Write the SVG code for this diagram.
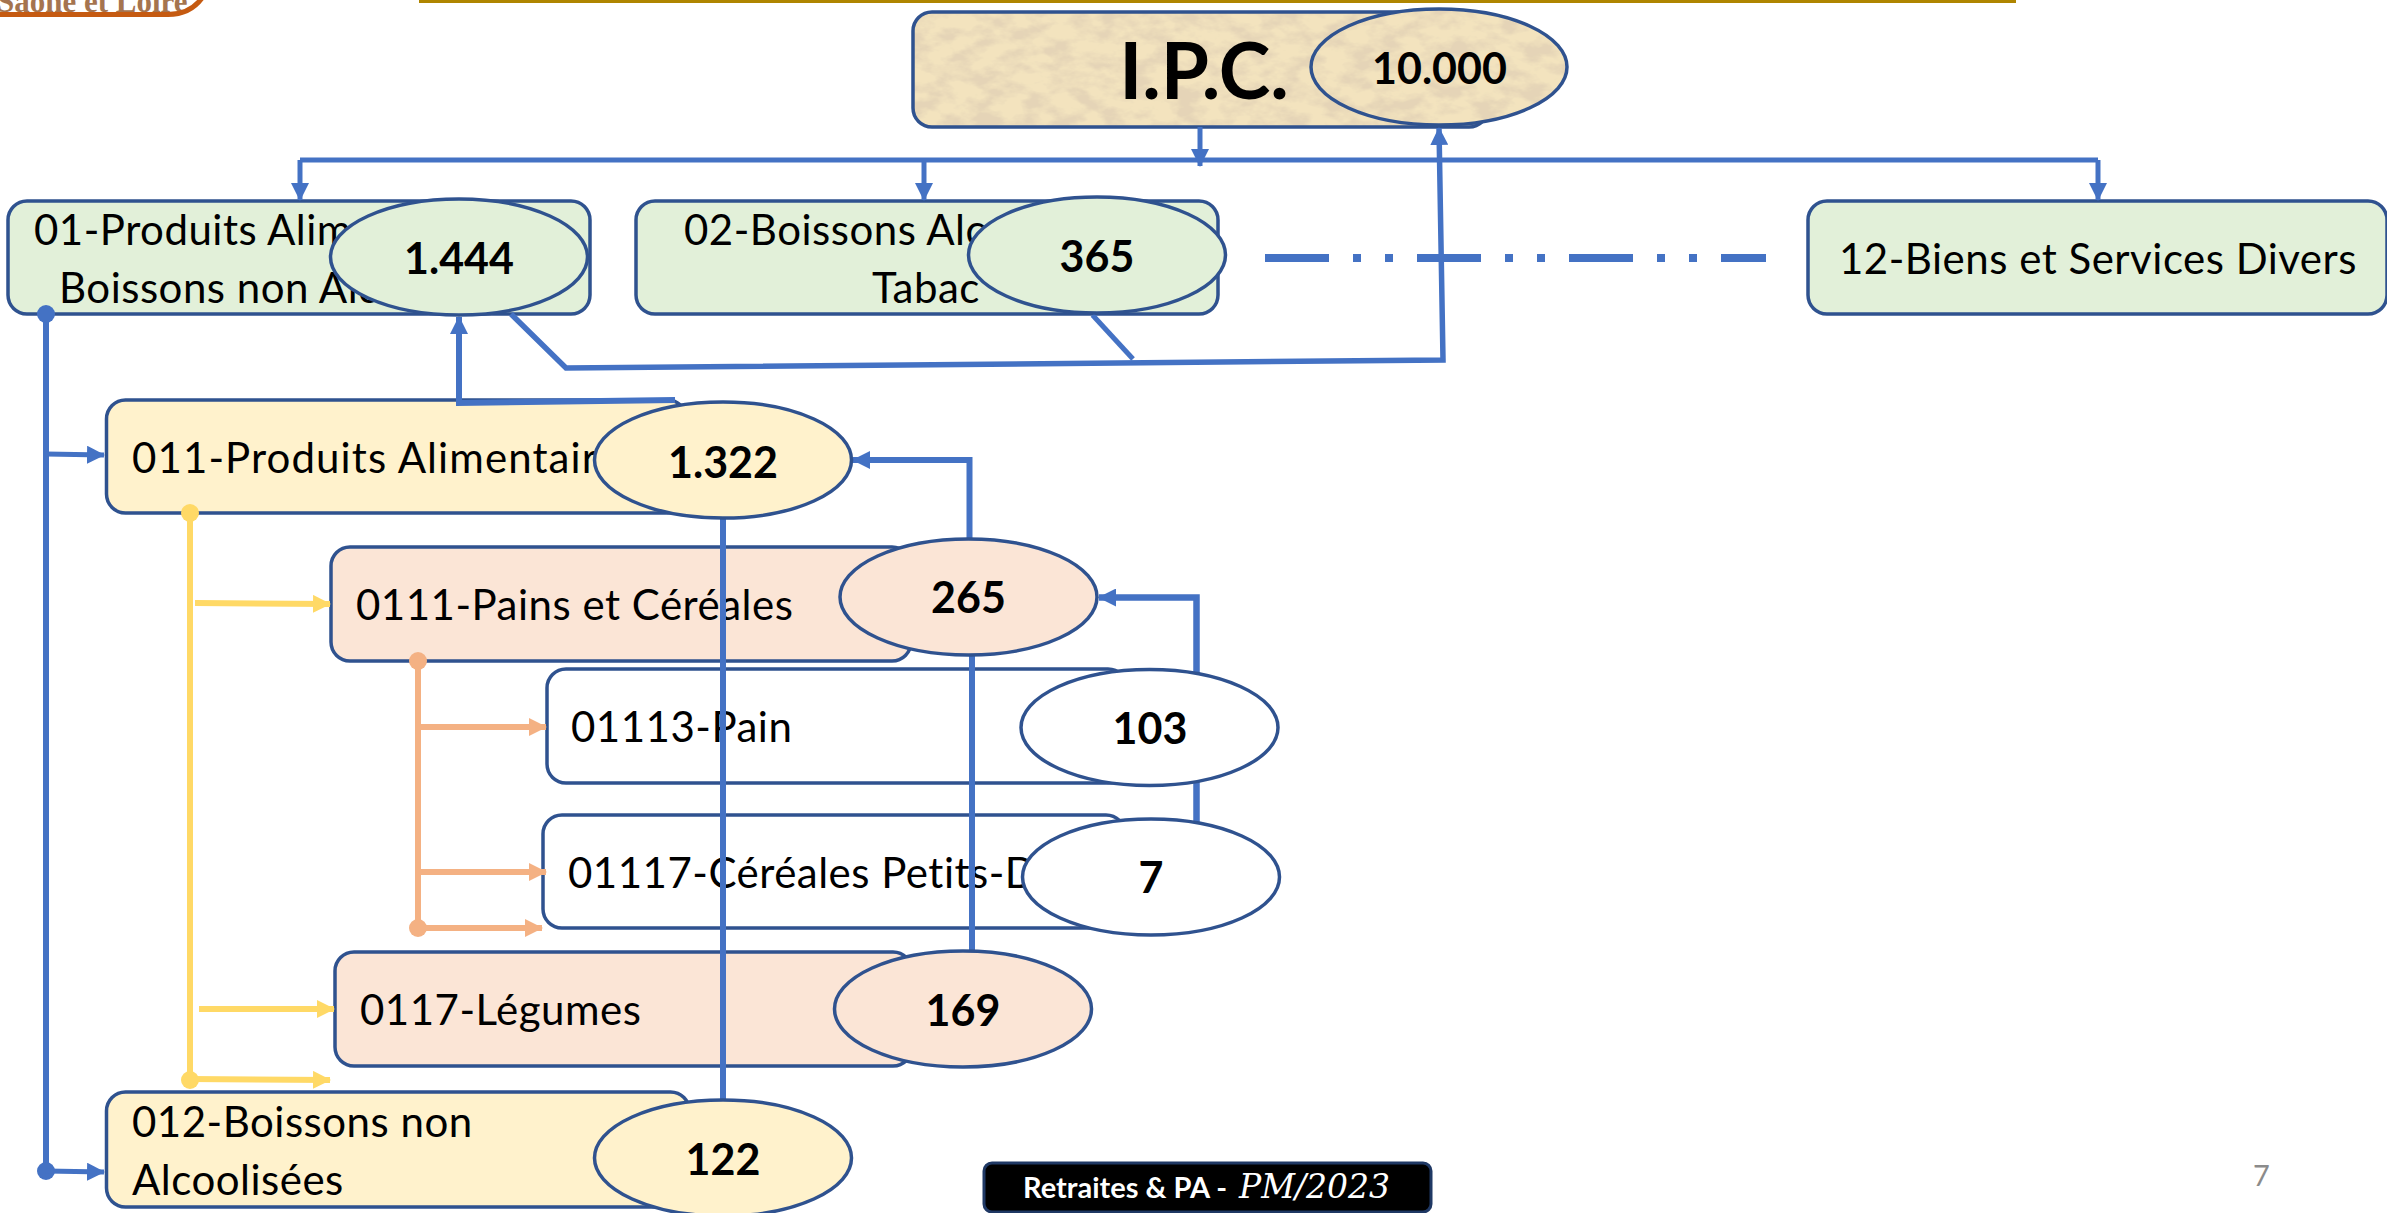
<svg xmlns="http://www.w3.org/2000/svg" width="2387" height="1213" viewBox="0 0 2387 1213">
<style>
.box{stroke:#2F528F;stroke-width:3.500}
.val{stroke:#2F528F;stroke-width:3.500}
.g{fill:#E2F0D9}.y{fill:#FFF2CC}.o{fill:#FBE5D6}.w{fill:#FFFFFF}
.t{font-family:Lato,"Liberation Sans",sans-serif;font-size:42px;letter-spacing:.5px;fill:#000}
.n{font-family:Lato,"Liberation Sans",sans-serif;font-size:43px;font-weight:700;fill:#000;text-anchor:middle}
.c{fill:none;stroke:#4472C4;stroke-width:5}
.cy{fill:none;stroke:#FFD966;stroke-width:5}
.co{fill:none;stroke:#F4B183;stroke-width:5}
</style>
<defs>
<marker id="ab" markerUnits="userSpaceOnUse" markerWidth="18" markerHeight="18" viewBox="0 0 18 18" refX="17" refY="9" orient="auto"><path d="M0 0L18 9L0 18Z" fill="#4472C4"/></marker>
<marker id="ay" markerUnits="userSpaceOnUse" markerWidth="18" markerHeight="18" viewBox="0 0 18 18" refX="17" refY="9" orient="auto"><path d="M0 0L18 9L0 18Z" fill="#FFD966"/></marker>
<marker id="ao" markerUnits="userSpaceOnUse" markerWidth="18" markerHeight="18" viewBox="0 0 18 18" refX="17" refY="9" orient="auto"><path d="M0 0L18 9L0 18Z" fill="#F4B183"/></marker>
<marker id="db" markerUnits="userSpaceOnUse" markerWidth="18" markerHeight="18" viewBox="0 0 18 18" refX="9" refY="9"><circle cx="9" cy="9" r="9" fill="#4472C4"/></marker>
<marker id="dy" markerUnits="userSpaceOnUse" markerWidth="18" markerHeight="18" viewBox="0 0 18 18" refX="9" refY="9"><circle cx="9" cy="9" r="9" fill="#FFD966"/></marker>
<marker id="do" markerUnits="userSpaceOnUse" markerWidth="18" markerHeight="18" viewBox="0 0 18 18" refX="9" refY="9"><circle cx="9" cy="9" r="9" fill="#F4B183"/></marker>
<filter id="parchment" x="0" y="0" width="100%" height="100%">
<feTurbulence type="fractalNoise" baseFrequency="0.04 0.07" numOctaves="4" seed="7" result="n"/>
<feFlood flood-color="#F3E3BE" result="base"/>
<feColorMatrix in="n" type="matrix" values="0 0 0 0 0.78  0 0 0 0 0.66  0 0 0 0 0.47  3.200 0 0 0 -1.250" result="dark"/>
<feMerge result="m"><feMergeNode in="base"/><feMergeNode in="dark"/></feMerge>
<feComposite in="m" in2="SourceAlpha" operator="in"/>
</filter>
</defs>

<g id="logo">
<text x="-3" y="12" font-family="Liberation Serif, serif" font-weight="700" font-size="31" fill="#A5744F">Saône et Loire</text>
<path d="M0 14.500H168Q190 14.500 202 -2" fill="none" stroke="#C55A11" stroke-width="5"/>
</g>
<rect id="top-rule" x="419" y="0" width="1597" height="3" fill="#AF8500"/>

<g id="node-ipc">
<rect x="913" y="12" width="575" height="115" rx="19" fill="#fff" filter="url(#parchment)"/>
<rect class="box" x="913" y="12" width="575" height="115" rx="19" fill="none"/>
<text x="1204" y="99" class="n" style="font-size:78px">I.P.C.</text>
</g>
<g id="node-01">
<rect class="box g" x="8" y="201" width="582" height="113" rx="19"/>
<text class="t" x="34" y="245">01-Produits Alim</text>
<text class="t" x="59" y="303">Boissons non Alc</text>
</g>
<g id="node-02">
<rect class="box g" x="636" y="201" width="582" height="113" rx="19"/>
<text class="t" x="684" y="245">02-Boissons Alc</text>
<text class="t" x="872" y="303">Tabac</text>
</g>
<g id="node-12">
<rect class="box g" x="1808" y="201" width="579" height="113" rx="19"/>
<text class="t" x="1839" y="274">12-Biens et Services Divers</text>
</g>
<g id="node-011">
<rect class="box y" x="106.500" y="400" width="580" height="113" rx="19"/>
<text class="t" x="132" y="473" style="letter-spacing:1.100px">011-Produits Alimentair</text>
</g>
<g id="node-0111">
<rect class="box o" x="331" y="547" width="580" height="114" rx="19"/>
<text class="t" x="356" y="620">0111-Pains et Céréales</text>
</g>
<g id="node-01113">
<rect class="box w" x="547" y="669" width="580" height="114" rx="19"/>
<text class="t" x="571" y="742">01113-Pain</text>
</g>
<g id="node-01117">
<rect class="box w" x="543" y="815" width="582" height="113" rx="19"/>
<text class="t" x="568" y="888">01117-Céréales Petits-D</text>
</g>
<g id="node-0117">
<rect class="box o" x="335" y="952" width="577" height="114" rx="19"/>
<text class="t" x="360" y="1025">0117-Légumes</text>
</g>
<g id="node-012">
<rect class="box y" x="106.500" y="1092" width="583" height="115" rx="19"/>
<text class="t" x="132" y="1137">012-Boissons non</text>
<text class="t" x="132" y="1195">Alcoolisées</text>
</g>

<g id="connectors">
<path class="c" d="M300 160H2098"/>
<path class="c" d="M1200 127V166" marker-end="url(#ab)"/>
<path class="c" d="M300 160V200" marker-end="url(#ab)"/>
<path class="c" d="M924 160V200" marker-end="url(#ab)"/>
<path class="c" d="M2098 160V200" marker-end="url(#ab)"/>
<path d="M1265 258H1766" fill="none" stroke="#4472C4" stroke-width="8" stroke-dasharray="64 24 8 24 8 24"/>
<path class="c" style="stroke-width:5.500" d="M511 314L566 368L1443 360L1439 128" marker-end="url(#ab)"/>
<path class="c" d="M1092.500 315L1133 359"/>
<path class="c" style="stroke-width:6" d="M675 400L459 403V317" marker-end="url(#ab)"/>
<path class="c" style="stroke-width:6" d="M46 314V1171" marker-start="url(#db)" marker-end="url(#db)"/>
<path class="c" d="M46 454L104 455" marker-end="url(#ab)"/>
<path class="c" d="M46 1171L104 1172" marker-end="url(#ab)"/>
<path class="cy" style="stroke-width:6" d="M190 513V1080" marker-start="url(#dy)" marker-end="url(#dy)"/>
<path class="cy" style="stroke-width:6" d="M195 603L330 604" marker-end="url(#ay)"/>
<path class="cy" style="stroke-width:6" d="M199 1009H334" marker-end="url(#ay)"/>
<path class="cy" style="stroke-width:6" d="M190 1079L330 1080" marker-end="url(#ay)"/>
<path class="co" style="stroke-width:6" d="M418 661V928" marker-start="url(#do)" marker-end="url(#do)"/>
<path class="co" style="stroke-width:6" d="M418 727H546" marker-end="url(#ao)"/>
<path class="co" style="stroke-width:6" d="M418 872H546" marker-end="url(#ao)"/>
<path class="co" style="stroke-width:6" d="M418 928H542" marker-end="url(#ao)"/>
<path class="c" style="stroke-width:6" d="M723 519V1100"/>
<path class="c" style="stroke-width:6" d="M972 656V952"/>
<path class="c" style="stroke-width:6" d="M969.500 538V460H853" marker-end="url(#ab)"/>
<path class="c" style="stroke-width:6.500" d="M1196.500 822V597.500H1099" marker-end="url(#ab)"/>
</g>

<g id="value-ipc">
<ellipse cx="1439" cy="67" rx="128" ry="58" fill="#fff" filter="url(#parchment)"/>
<ellipse class="val" cx="1439" cy="67" rx="128" ry="58" fill="none"/>
<text class="n" x="1439.500" y="84">10.000</text>
</g>
<g id="value-01"><ellipse class="val g" cx="459" cy="257" rx="128.500" ry="58"/><text class="n" x="459" y="274">1.444</text></g>
<g id="value-02"><ellipse class="val g" cx="1097" cy="255" rx="128.500" ry="58"/><text class="n" x="1097" y="272">365</text></g>
<g id="value-011"><ellipse class="val y" cx="723" cy="460" rx="128.500" ry="58"/><text class="n" x="723" y="478">1.322</text></g>
<g id="value-0111"><ellipse class="val o" cx="968.500" cy="597" rx="128.500" ry="58"/><text class="n" x="968.500" y="613">265</text></g>
<g id="value-01113"><ellipse class="val w" cx="1149.500" cy="727.500" rx="128.500" ry="58"/><text class="n" x="1150" y="744">103</text></g>
<g id="value-01117"><ellipse class="val w" cx="1151" cy="877" rx="128.500" ry="58"/><text class="n" x="1151" y="893">7</text></g>
<g id="value-0117"><ellipse class="val o" cx="963" cy="1009" rx="128.500" ry="58"/><text class="n" x="963" y="1026">169</text></g>
<g id="value-012"><ellipse class="val y" cx="723" cy="1158" rx="128.500" ry="58"/><text class="n" x="723" y="1175">122</text></g>

<g id="footer">
<rect x="984" y="1163" width="447" height="49" rx="8" fill="#000" stroke="#1F3864" stroke-width="3"/>
<text x="1023" y="1198" font-family="Lato, Liberation Sans, sans-serif" font-weight="700" font-size="29" fill="#fff">Retraites &amp; PA -</text>
<text x="1239" y="1198" font-family="DejaVu Serif, serif" font-style="italic" font-size="33" fill="#fff">PM/2023</text>
</g>
<text id="page-number" x="2253" y="1186" font-family="Lato, Liberation Sans, sans-serif" font-size="29" fill="#8B8B8B">7</text>
</svg>
